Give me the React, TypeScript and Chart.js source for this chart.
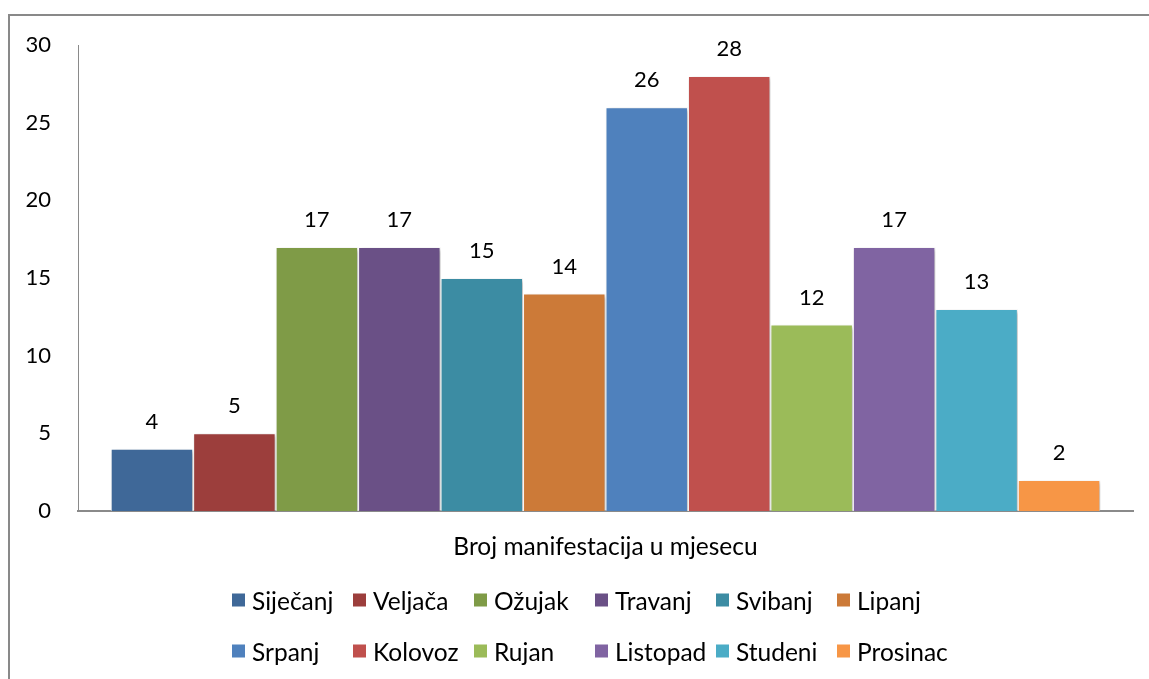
import React, { useEffect, useRef } from "react";
import { Chart, registerables } from "chart.js";

Chart.register(...registerables);

const categories = ["Broj manifestacija u mjesecu"];
const months = [
  "Siječanj", "Veljača", "Ožujak", "Travanj", "Svibanj", "Lipanj",
  "Srpanj", "Kolovoz", "Rujan", "Listopad", "Studeni", "Prosinac",
];
const values = [4, 5, 17, 17, 15, 14, 26, 28, 12, 17, 13, 2];
const colors = [
  "#3F6898", "#9C3E3C", "#7F9B47", "#6A5086", "#3C8CA3", "#CC7A38",
  "#4F81BD", "#C0504D", "#9BBB59", "#8064A2", "#4BACC6", "#F79646",
];
const yMin = 0;
const yMax = 30;
const yStep = 5;

const FONT = "Lato";
const NUM_SIZE = 22;
const TEXT_SIZE = 24.5;

const shadowPlugin = {
  id: "barShadow",
  beforeDatasetsDraw(chart: any) {
    const ctx = chart.ctx;
    ctx.save();
    ctx.shadowColor = "rgba(0,0,0,0.28)";
    ctx.shadowBlur = 4;
    ctx.shadowOffsetX = 2;
    ctx.shadowOffsetY = 2;
  },
  afterDatasetsDraw(chart: any) {
    chart.ctx.restore();
  },
};

const valueLabelPlugin = {
  id: "valueLabels",
  afterDatasetsDraw(chart: any) {
    const ctx = chart.ctx;
    ctx.save();
    ctx.font = `${NUM_SIZE}px ${FONT}`;
    ctx.fillStyle = "#000";
    ctx.textAlign = "center";
    ctx.textBaseline = "alphabetic";
    chart.data.datasets.forEach((ds: any, i: number) => {
      const meta = chart.getDatasetMeta(i);
      meta.data.forEach((bar: any, j: number) => {
        ctx.fillText(String(ds.data[j]), bar.x, bar.y - 20);
      });
    });
    ctx.restore();
  },
};

const LEGEND_LEFT = 232;
const LEGEND_COL = 121;
const LEGEND_ROWS = [600, 651];
const LEGEND_PER_ROW = 6;

const gridLegendPlugin = {
  id: "gridLegend",
  afterDraw(chart: any) {
    const ctx = chart.ctx;
    ctx.save();
    ctx.font = `${TEXT_SIZE}px ${FONT}`;
    ctx.textBaseline = "middle";
    ctx.textAlign = "left";
    chart.data.datasets.forEach((ds: any, i: number) => {
      const row = Math.floor(i / LEGEND_PER_ROW);
      const col = i % LEGEND_PER_ROW;
      const x = LEGEND_LEFT + col * LEGEND_COL;
      const y = LEGEND_ROWS[row];
      ctx.fillStyle = ds.backgroundColor;
      ctx.fillRect(x, y - 6.5, 13, 13);
      ctx.fillStyle = "#000";
      ctx.fillText(ds.label, x + 20, y + 2);
    });
    ctx.restore();
  },
};

export default function App() {
  const canvasRef = useRef<HTMLCanvasElement | null>(null);

  useEffect(() => {
    if (!canvasRef.current) return;
    const chart = new Chart(canvasRef.current, {
      type: "bar",
      data: {
        labels: categories,
        datasets: months.map((m, i) => ({
          label: m,
          data: [values[i]],
          backgroundColor: colors[i],
          borderColor: "#ffffff",
          borderWidth: 1,
          categoryPercentage: 0.938,
          barPercentage: 1,
        })),
      },
      options: {
        responsive: false,
        animation: false,
        events: [],
        layout: { padding: { left: 0, right: 16, top: 45, bottom: 108 } },
        plugins: {
          legend: { display: false },
          tooltip: { enabled: false },
          title: { display: false },
        },
        scales: {
          x: {
            grid: { display: false, drawTicks: false },
            border: { display: true, color: "#8a8a8a", width: 2 },
            ticks: {
              color: "#000",
              font: { family: FONT, size: TEXT_SIZE },
              padding: 21,
            },
            afterFit(scale: any) {
              scale.height = 60;
            },
          },
          y: {
            min: yMin,
            max: yMax,
            grid: { display: false, drawTicks: false },
            border: { display: true, color: "#8a8a8a", width: 1 },
            ticks: {
              stepSize: yStep,
              color: "#000",
              font: { family: FONT, size: NUM_SIZE },
              padding: 27,
            },
            afterFit(scale: any) {
              scale.width = 78;
            },
          },
        },
      },
      plugins: [shadowPlugin, valueLabelPlugin, gridLegendPlugin],
    });
    return () => chart.destroy();
  }, []);

  return (
    <>
      <div
        style={{
          position: "fixed",
          left: 8,
          top: 14,
          right: 0,
          bottom: 0,
          borderTop: "2px solid #898989",
          borderLeft: "2px solid #898989",
          background: "#fff",
        }}
      />
      <canvas
        ref={canvasRef}
        width={1149}
        height={679}
        style={{ position: "fixed", left: 0, top: 0, width: 1149, height: 679 }}
      />
    </>
  );
}
